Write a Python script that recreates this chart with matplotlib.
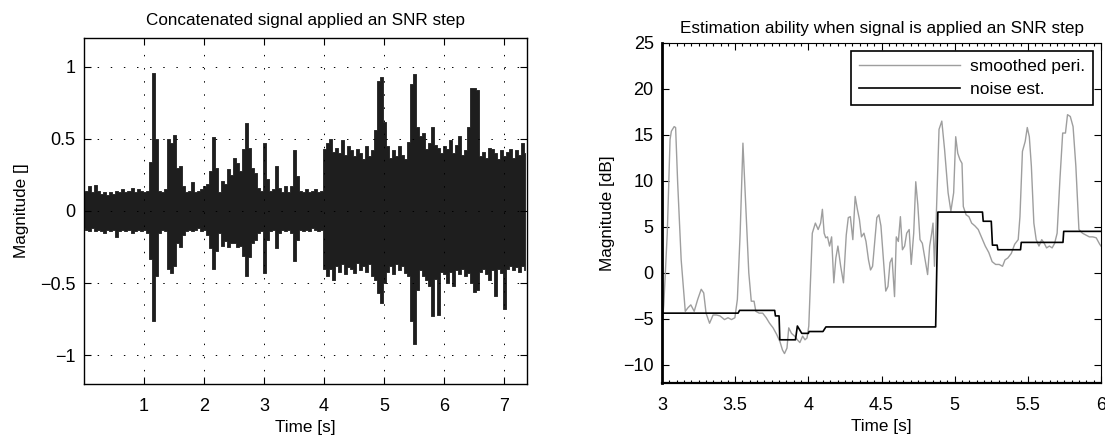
"""
SNR step: concatenated waveform and noise estimate vs. smoothed periodogram
"""

import numpy as np
import matplotlib.pyplot as plt
from matplotlib.ticker import MultipleLocator

plt.rcParams['font.family'] = ['Liberation Sans', 'DejaVu Sans']

# --- left panel: waveform envelope, one sample every 0.05 s (0 .. 7.35 s)
ENV_STEP = 0.05
wave_upper = [
    0.13, 0.14, 0.17, 0.13, 0.18, 0.14, 0.12, 0.13, 0.11, 0.13,
    0.12, 0.14, 0.13, 0.15, 0.13, 0.14, 0.16, 0.13, 0.15, 0.14,
    0.13, 0.14, 0.34, 0.96, 0.50, 0.14, 0.13, 0.15, 0.50, 0.47,
    0.53, 0.30, 0.31, 0.17, 0.13, 0.14, 0.20, 0.13, 0.14, 0.15,
    0.17, 0.19, 0.28, 0.51, 0.30, 0.13, 0.21, 0.19, 0.29, 0.25,
    0.37, 0.33, 0.28, 0.43, 0.61, 0.44, 0.30, 0.26, 0.16, 0.14,
    0.47, 0.22, 0.14, 0.15, 0.31, 0.16, 0.13, 0.17, 0.13, 0.17,
    0.42, 0.24, 0.14, 0.13, 0.15, 0.13, 0.14, 0.15, 0.13, 0.14,
    0.43, 0.47, 0.50, 0.41, 0.44, 0.40, 0.49, 0.39, 0.45, 0.42,
    0.38, 0.43, 0.40, 0.36, 0.45, 0.38, 0.42, 0.56, 0.90, 0.93,
    0.62, 0.45, 0.37, 0.42, 0.38, 0.45, 0.39, 0.36, 0.48, 0.88,
    0.95, 0.58, 0.52, 0.54, 0.43, 0.47, 0.58, 0.46, 0.44, 0.40,
    0.45, 0.43, 0.49, 0.40, 0.46, 0.52, 0.39, 0.42, 0.58, 0.85,
    0.85, 0.84, 0.38, 0.41, 0.37, 0.44, 0.43, 0.40, 0.36, 0.42,
    0.38, 0.41, 0.43, 0.37, 0.42, 0.39, 0.47, 0.40,
]
wave_lower = [
    -0.12, -0.13, -0.14, -0.12, -0.14, -0.13, -0.14, -0.15, -0.13, -0.14,
    -0.13, -0.18, -0.14, -0.13, -0.14, -0.13, -0.15, -0.14, -0.13, -0.14,
    -0.13, -0.15, -0.33, -0.76, -0.45, -0.15, -0.13, -0.14, -0.40, -0.43,
    -0.38, -0.22, -0.25, -0.17, -0.14, -0.13, -0.14, -0.13, -0.12, -0.14,
    -0.13, -0.17, -0.26, -0.40, -0.28, -0.15, -0.24, -0.21, -0.25, -0.22,
    -0.22, -0.25, -0.24, -0.31, -0.45, -0.32, -0.22, -0.20, -0.15, -0.14,
    -0.43, -0.20, -0.14, -0.13, -0.26, -0.15, -0.13, -0.14, -0.13, -0.15,
    -0.35, -0.20, -0.13, -0.14, -0.13, -0.14, -0.12, -0.13, -0.14, -0.13,
    -0.40, -0.45, -0.40, -0.48, -0.38, -0.42, -0.37, -0.44, -0.39, -0.40,
    -0.43, -0.36, -0.41, -0.38, -0.42, -0.37, -0.45, -0.48, -0.57, -0.64,
    -0.50, -0.42, -0.38, -0.44, -0.37, -0.41, -0.38, -0.43, -0.45, -0.76,
    -0.92, -0.55, -0.41, -0.45, -0.48, -0.52, -0.73, -0.47, -0.72, -0.42,
    -0.44, -0.50, -0.42, -0.52, -0.41, -0.44, -0.40, -0.45, -0.43, -0.50,
    -0.56, -0.55, -0.42, -0.40, -0.44, -0.48, -0.41, -0.59, -0.40, -0.43,
    -0.68, -0.40, -0.38, -0.41, -0.39, -0.42, -0.38, -0.41,
]

# --- right panel: smoothed periodogram [dB]
peri_t = [
    3.000, 3.012, 3.036, 3.055, 3.064, 3.083, 3.093, 3.107, 3.131, 3.159,
    3.178, 3.197, 3.220, 3.244, 3.268, 3.285, 3.301, 3.325, 3.349, 3.372,
    3.396, 3.427, 3.451, 3.475, 3.498, 3.515, 3.534, 3.553, 3.570, 3.593,
    3.610, 3.629, 3.641, 3.664, 3.688, 3.712, 3.735, 3.759, 3.783, 3.806,
    3.823, 3.837, 3.854, 3.866, 3.885, 3.906, 3.925, 3.942, 3.961, 3.977,
    3.991, 4.003, 4.027, 4.048, 4.067, 4.084, 4.096, 4.108, 4.119, 4.131,
    4.145, 4.159, 4.174, 4.188, 4.202, 4.221, 4.240, 4.259, 4.273, 4.287,
    4.304, 4.320, 4.335, 4.349, 4.363, 4.380, 4.394, 4.411, 4.425, 4.439,
    4.453, 4.468, 4.482, 4.496, 4.510, 4.529, 4.544, 4.558, 4.572, 4.589,
    4.601, 4.615, 4.629, 4.643, 4.658, 4.672, 4.689, 4.703, 4.720, 4.734,
    4.748, 4.763, 4.779, 4.796, 4.815, 4.829, 4.843, 4.852, 4.862, 4.874,
    4.893, 4.912, 4.931, 4.955, 4.974, 4.993, 5.007, 5.021, 5.036, 5.050,
    5.059, 5.078, 5.097, 5.116, 5.138, 5.161, 5.185, 5.209, 5.233, 5.256,
    5.280, 5.304, 5.327, 5.344, 5.363, 5.387, 5.410, 5.434, 5.446, 5.463,
    5.482, 5.496, 5.510, 5.524, 5.541, 5.557, 5.576, 5.595, 5.612, 5.628,
    5.647, 5.666, 5.683, 5.700, 5.719, 5.738, 5.757, 5.771, 5.790, 5.809,
    5.828, 5.849, 5.873, 5.896, 5.920, 5.944, 5.967, 5.991, 6.000,
]
peri_db = [
    -5.8, -3.5, 4.3, 14.5, 15.4, 15.9, 15.8, 9.8, 1.4, -4.2,
    -3.8, -3.5, -4.2, -2.9, -1.8, -2.2, -4.4, -5.5, -4.6, -4.6,
    -4.7, -5.1, -4.9, -5.1, -4.9, -2.9, 4.3, 14.1, 8.0, 0.0,
    -3.1, -3.1, -4.2, -4.4, -4.4, -4.9, -5.5, -6.0, -6.7, -7.5,
    -8.4, -8.8, -8.2, -6.0, -6.6, -6.9, -7.3, -7.6, -6.9, -7.3,
    -7.1, -5.8, 4.3, 5.4, 4.7, 5.4, 6.9, 4.3, 3.8, 3.9,
    2.9, 3.9, -1.1, 1.6, 2.9, 0.7, -1.1, 4.1, 6.0, 6.1,
    3.6, 8.3, 6.9, 5.8, 3.9, 4.3, 3.4, 1.4, 0.3, 0.7,
    3.2, 6.0, 6.3, 5.1, 2.1, -2.0, -1.5, 1.1, 1.6, -2.6,
    3.9, 3.4, 6.1, 2.5, 2.9, 4.3, 4.7, 0.9, 4.3, 9.9,
    7.4, 3.6, 3.2, 1.6, -0.2, 2.9, 4.3, 5.4, 0.7, 6.0,
    15.6, 16.5, 13.4, 8.7, 6.7, 8.7, 14.8, 13.0, 12.3, 11.9,
    7.2, 6.3, 6.1, 5.4, 5.1, 4.7, 3.8, 2.9, 2.2, 1.2,
    0.9, 0.9, 0.7, 1.4, 1.6, 2.1, 3.1, 3.6, 6.1, 13.2,
    14.3, 15.8, 14.8, 11.6, 5.4, 3.6, 2.9, 3.6, 3.2, 2.7,
    2.9, 2.7, 3.2, 4.3, 10.1, 15.2, 15.2, 17.2, 17.0, 15.9,
    11.6, 4.7, 4.3, 4.1, 3.9, 3.9, 3.8, 3.1, 2.9,
]

# --- right panel: noise estimate [dB] (breakpoints of the staircase)
noise_t = [3.000, 3.520, 3.530, 3.770, 3.775, 3.800, 3.805, 3.912, 3.925,
           3.955, 4.000, 4.005, 4.100, 4.120, 4.870, 4.885, 5.190, 5.195,
           5.250, 5.258, 5.290, 5.295, 5.450, 5.455, 5.740, 5.745, 6.000]
noise_db = [-4.4, -4.4, -4.1, -4.1, -4.7, -4.7, -7.3, -7.3, -5.8,
            -6.6, -6.6, -6.4, -6.4, -5.9, -5.9, 6.6, 6.6, 5.6,
            5.6, 3.0, 3.0, 2.5, 2.5, 3.3, 3.3, 4.5, 4.5]

left_xticks = [1, 2, 3, 4, 5, 6, 7]
left_yticks = [-1, -0.5, 0, 0.5, 1]
left_yticklabels = ['\u22121', '\u22120.5', '0', '0.5', '1']
right_xticks = [3, 3.5, 4, 4.5, 5, 5.5, 6]
right_xticklabels = ['3', '3.5', '4', '4.5', '5', '5.5', '6']
right_yticks = [-10, -5, 0, 5, 10, 15, 20, 25]

TICK_FS = 13
TEXT_FS = 12.3


def main():
    fig = plt.figure(figsize=(11.05, 4.36), dpi=100)

    # left: waveform (stepped envelope so it reads like dense samples)
    ax1 = fig.add_axes([0.076, 0.1193, 0.4009, 0.7936])
    t_env = np.arange(len(wave_upper)) * ENV_STEP
    ax1.fill_between(t_env, wave_lower, wave_upper, step='mid',
                     color='#1e1e1e', lw=0.6, edgecolor='#1e1e1e', zorder=2)
    ax1.set_xlim(0, 7.38)
    ax1.set_ylim(-1.2, 1.2)
    ax1.set_xticks(left_xticks)
    ax1.set_yticks(left_yticks)
    ax1.set_yticklabels(left_yticklabels)
    ax1.grid(True, color='black', linestyle=(0, (1.5, 12)), lw=0.7)
    ax1.set_axisbelow(False)
    ax1.tick_params(direction='in', top=True, right=True, length=5,
                    labelsize=TICK_FS, width=0.8)
    ax1.tick_params(axis='x', pad=10)
    ax1.tick_params(axis='y', pad=6)
    for sp in ax1.spines.values():
        sp.set_linewidth(1.0)
    ax1.set_title('Concatenated signal applied an SNR step', fontsize=TEXT_FS,
                  pad=9)
    ax1.set_xlabel('Time [s]', fontsize=TEXT_FS, labelpad=4)
    ax1.set_ylabel('Magnitude []', fontsize=TEXT_FS, labelpad=8)

    # right: estimator tracking
    ax2 = fig.add_axes([0.5991, 0.1216, 0.3973, 0.7798])
    ax2.plot(peri_t, peri_db, color='#9e9e9e', lw=1.0,
             label='smoothed peri.')
    ax2.plot(noise_t, noise_db, color='black', lw=1.2, label='noise est.')
    ax2.set_xlim(3, 6)
    ax2.set_ylim(-12, 25)
    ax2.set_xticks(right_xticks)
    ax2.set_xticklabels(right_xticklabels)
    ax2.set_yticks(right_yticks)
    ax2.xaxis.set_minor_locator(MultipleLocator(0.05))
    ax2.tick_params(which='major', direction='in', top=True, right=True,
                    length=5, labelsize=TICK_FS, width=0.8)
    ax2.tick_params(which='major', axis='x', pad=10)
    ax2.tick_params(which='major', axis='y', pad=6)
    ax2.tick_params(which='minor', direction='in', top=True, length=2.5,
                    width=0.8)
    for sp in ax2.spines.values():
        sp.set_linewidth(0.8)
    ax2.spines['left'].set_linewidth(2.0)
    ax2.spines['bottom'].set_linewidth(1.6)
    ax2.set_title('Estimation ability when signal is applied an SNR step',
                  fontsize=TEXT_FS, pad=7)
    ax2.set_xlabel('Time [s]', fontsize=TEXT_FS, labelpad=4)
    ax2.set_ylabel('Magnitude [dB]', fontsize=TEXT_FS, labelpad=6)
    leg = ax2.legend(loc='upper right', fontsize=12.5, handlelength=5.8,
                     fancybox=False, framealpha=1, edgecolor='black',
                     borderaxespad=0.45, borderpad=0.45, labelspacing=0.45,
                     handletextpad=0.6)
    leg.get_frame().set_linewidth(1.2)

    fig.savefig('out.png', dpi=100)


if __name__ == '__main__':
    main()
